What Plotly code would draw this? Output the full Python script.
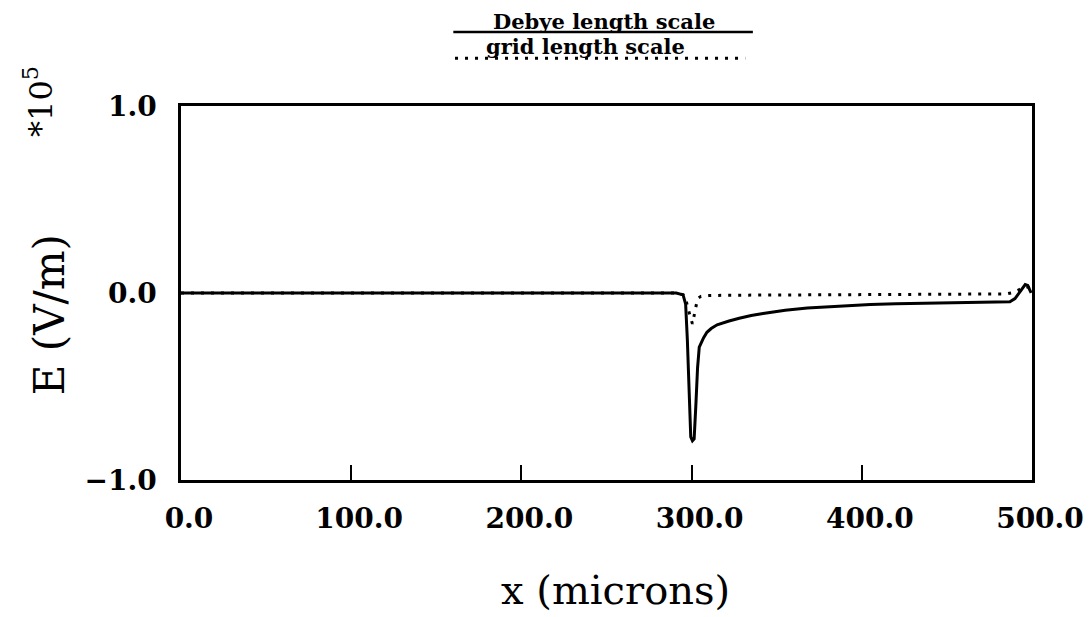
import plotly.graph_objects as go

# Debye length scale (solid)
x_debye = [0, 100, 200, 291, 295, 296.5, 297.5, 298.5, 299.5, 300.5, 301.5, 302.5, 303.5, 304.5,
           306, 307, 309, 311.5, 315, 318, 322, 328, 335, 342, 348, 355, 368, 380, 387, 395, 405,
           420, 440, 460, 475, 487, 490, 492, 494, 496, 497.5, 499.5]
y_debye = [0, 0, 0, 0, -0.01, -0.06, -0.25, -0.55, -0.77, -0.79, -0.78, -0.6, -0.4, -0.29,
           -0.26, -0.24, -0.21, -0.19, -0.17, -0.16, -0.15, -0.135, -0.12, -0.11, -0.10, -0.092,
           -0.08, -0.074, -0.07, -0.066, -0.062, -0.058, -0.055, -0.052, -0.05, -0.047, -0.03,
           -0.005, 0.025, 0.045, 0.04, 0.0]

# grid length scale (dotted)
x_grid = [0, 100, 200, 291, 295, 297, 299, 300.5, 301.5, 302.5, 303.5, 305.5, 310, 320, 340, 370, 400,
          430, 460, 485, 490, 493, 496, 498, 499.5]
y_grid = [0, 0, 0, 0, -0.01, -0.05, -0.12, -0.165, -0.12, -0.065, -0.03, -0.018, -0.014, -0.012,
          -0.011, -0.009, -0.007, -0.006, -0.005, -0.005, 0.005, 0.02, 0.035, 0.03, 0.01]

x_ticks = [0, 100, 200, 300, 400, 500]
x_tick_labels = ["0.0", "100.0", "200.0", "300.0", "400.0", "500.0"]
y_ticks = [-1.0, 0.0, 1.0]
y_tick_labels = ["\u22121.0", "0.0", "1.0"]

legend_names = ["Debye length scale", "grid length scale"]

fig = go.Figure()
fig.add_trace(go.Scatter(x=x_debye, y=y_debye, mode="lines", name=legend_names[0],
                         line=dict(color="black", width=3)))
fig.add_trace(go.Scatter(x=x_grid, y=y_grid, mode="lines", name=legend_names[1],
                         line=dict(color="black", width=3, dash="3px,7px")))

tickfont = dict(family="DejaVu Serif", size=28, color="black", weight="bold")

fig.update_layout(
    width=1091, height=617,
    margin=dict(l=173, r=67, t=98, b=145),
    paper_bgcolor="white", plot_bgcolor="white",
    showlegend=False,
    xaxis=dict(range=[0, 500], tickvals=x_ticks, ticktext=x_tick_labels,
               ticks="inside", ticklen=15, tickwidth=2, tickcolor="black",
               showline=True, linecolor="black", linewidth=2.5, mirror=True,
               showgrid=False, zeroline=False, tickfont=tickfont,
               ticklabelstandoff=12, ticklabelshift=8),
    yaxis=dict(range=[-1.0, 1.0], tickvals=y_ticks, ticktext=y_tick_labels,
               ticks="inside", ticklen=8, tickwidth=2, tickcolor="black",
               showline=True, linecolor="black", linewidth=2.5, mirror=True,
               showgrid=False, zeroline=False, tickfont=tickfont,
               ticklabelstandoff=16),
)

legfont = dict(family="DejaVu Serif", size=21, color="black", weight="bold")
# Legend drawn as header above plot
fig.add_annotation(text=legend_names[0], xref="paper", yref="paper", x=0.497, y=1.226,
                   xanchor="center", yanchor="middle", showarrow=False, font=legfont)
fig.add_shape(type="line", xref="paper", yref="paper", x0=0.320, x1=0.672, y0=1.198, y1=1.198,
              line=dict(color="black", width=2.5))
fig.add_annotation(text=legend_names[1], xref="paper", yref="paper", x=0.475, y=1.160,
                   xanchor="center", yanchor="middle", showarrow=False, font=legfont)
fig.add_shape(type="line", xref="paper", yref="paper", x0=0.322, x1=0.663, y0=1.128, y1=1.128,
              line=dict(color="black", width=3, dash="3px,7px"))

# Axis titles and multiplier
fig.add_annotation(text="x (microns)", xref="paper", yref="paper", x=0.51, y=-0.294,
                   showarrow=False, xanchor="center", yanchor="middle",
                   font=dict(family="DejaVu Serif", size=40, color="black"))
fig.add_annotation(text="E (V/m)", xref="paper", yref="paper", x=-0.155, y=0.441, textangle=-90,
                   showarrow=False, xanchor="center", yanchor="middle",
                   font=dict(family="DejaVu Serif", size=42, color="black"))
fig.add_annotation(text="*10<sup>5</sup>", xref="paper", yref="paper", x=-0.168, y=1.011, textangle=-90,
                   showarrow=False, xanchor="center", yanchor="middle",
                   font=dict(family="DejaVu Serif", size=32, color="black"))

fig.write_html("out.html")
